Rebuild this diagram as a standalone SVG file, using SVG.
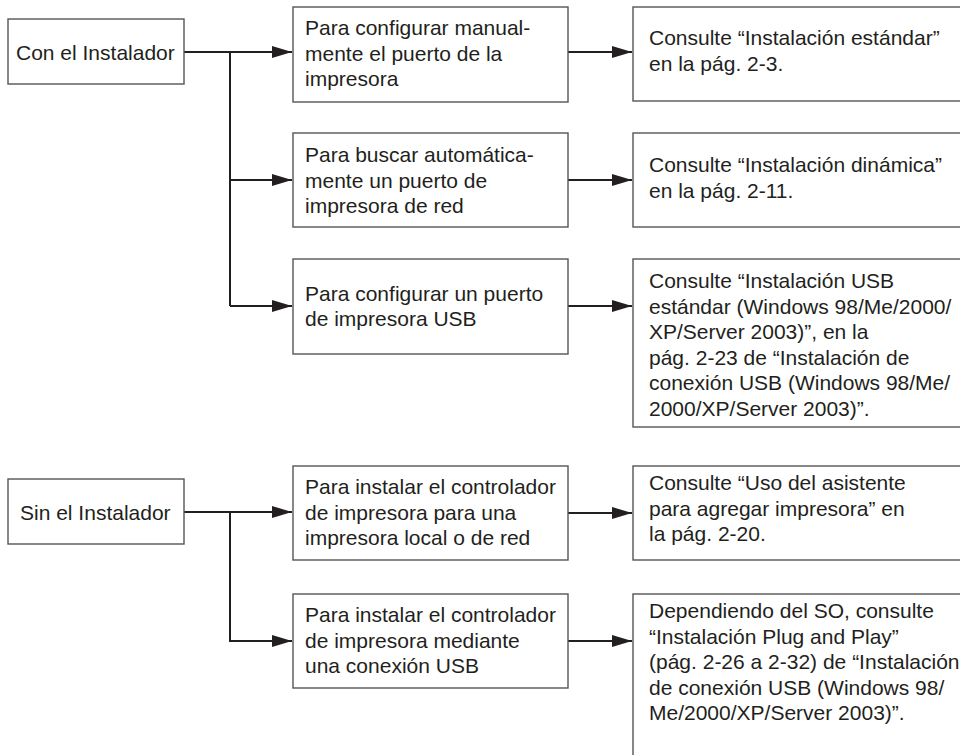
<svg xmlns="http://www.w3.org/2000/svg" width="960" height="755" viewBox="0 0 960 755">
<defs>
<style>
.box{fill:#fff;stroke:#555;stroke-width:1.4}
.t{font-family:"Liberation Sans",Arial,sans-serif;font-size:21px;fill:#231f20}
.c{fill:none;stroke:#231f20;stroke-width:2}
</style>
<marker id="ah" markerUnits="userSpaceOnUse" markerWidth="20" markerHeight="12" refX="20" refY="6" orient="auto">
<path d="M0,0 L20,6 L0,12 z" fill="#231f20"/>
</marker>
</defs>
<rect width="960" height="755" fill="#fff"/>
<g id="connectors">
<path class="c" d="M184,52 H292" marker-end="url(#ah)"/>
<path class="c" d="M230,52 V306"/>
<path class="c" d="M230,180 H292" marker-end="url(#ah)"/>
<path class="c" d="M230,306 H292" marker-end="url(#ah)"/>
<path class="c" d="M568,52 H632" marker-end="url(#ah)"/>
<path class="c" d="M568,180 H632" marker-end="url(#ah)"/>
<path class="c" d="M568,306 H632" marker-end="url(#ah)"/>
<path class="c" d="M184,512 H292" marker-end="url(#ah)"/>
<path class="c" d="M230,512 V641 H292" marker-end="url(#ah)"/>
<path class="c" d="M568,513 H632" marker-end="url(#ah)"/>
<path class="c" d="M568,641 H632" marker-end="url(#ah)"/>
</g>
<g id="con">
<rect class="box" x="8" y="19" width="176" height="65"/>
<text class="t" x="16" y="59.5">Con el Instalador</text>
</g>
<g id="m1">
<rect class="box" x="293" y="7" width="275" height="95"/>
<text class="t" x="305" y="35">Para configurar manual-</text>
<text class="t" x="305" y="60.5">mente el puerto de la</text>
<text class="t" x="305" y="86">impresora</text>
</g>
<g id="r1">
<rect class="box" x="633" y="7" width="340" height="94"/>
<text class="t" x="649" y="45">Consulte “Instalación estándar”</text>
<text class="t" x="649" y="70.5">en la pág. 2-3.</text>
</g>
<g id="m2">
<rect class="box" x="293" y="133" width="275" height="94"/>
<text class="t" x="305" y="162">Para buscar automática-</text>
<text class="t" x="305" y="187.5">mente un puerto de</text>
<text class="t" x="305" y="213">impresora de red</text>
</g>
<g id="r2">
<rect class="box" x="633" y="133" width="340" height="94"/>
<text class="t" x="649" y="172">Consulte “Instalación dinámica”</text>
<text class="t" x="649" y="197.5">en la pág. 2-11.</text>
</g>
<g id="m3">
<rect class="box" x="293" y="259" width="275" height="95"/>
<text class="t" x="305" y="300.5">Para configurar un puerto</text>
<text class="t" x="305" y="326">de impresora USB</text>
</g>
<g id="r3">
<rect class="box" x="633" y="259" width="340" height="168"/>
<text class="t" x="649" y="288">Consulte “Instalación USB</text>
<text class="t" x="649" y="313.5">estándar (Windows 98/Me/2000/</text>
<text class="t" x="649" y="339">XP/Server 2003)”, en la</text>
<text class="t" x="649" y="364.5">pág. 2-23 de “Instalación de</text>
<text class="t" x="649" y="390">conexión USB (Windows 98/Me/</text>
<text class="t" x="649" y="415.5">2000/XP/Server 2003)”.</text>
</g>
<g id="sin">
<rect class="box" x="8" y="479" width="176" height="65"/>
<text class="t" x="20" y="519.5">Sin el Instalador</text>
</g>
<g id="m4">
<rect class="box" x="293" y="466" width="275" height="94"/>
<text class="t" x="305" y="494">Para instalar el controlador</text>
<text class="t" x="305" y="519.5">de impresora para una</text>
<text class="t" x="305" y="545">impresora local o de red</text>
</g>
<g id="r4">
<rect class="box" x="633" y="466" width="340" height="94"/>
<text class="t" x="649" y="490">Consulte “Uso del asistente</text>
<text class="t" x="649" y="515.5">para agregar impresora” en</text>
<text class="t" x="649" y="541">la pág. 2-20.</text>
</g>
<g id="m5">
<rect class="box" x="293" y="594" width="275" height="94"/>
<text class="t" x="305" y="622">Para instalar el controlador</text>
<text class="t" x="305" y="647.5">de impresora mediante</text>
<text class="t" x="305" y="673">una conexión USB</text>
</g>
<g id="r5">
<rect class="box" x="633" y="594" width="340" height="180"/>
<text class="t" x="649" y="618">Dependiendo del SO, consulte</text>
<text class="t" x="649" y="643.5">“Instalación Plug and Play”</text>
<text class="t" x="649" y="669">(pág. 2-26 a 2-32) de “Instalación</text>
<text class="t" x="649" y="694.5">de conexión USB (Windows 98/</text>
<text class="t" x="649" y="720">Me/2000/XP/Server 2003)”.</text>
</g>
</svg>
